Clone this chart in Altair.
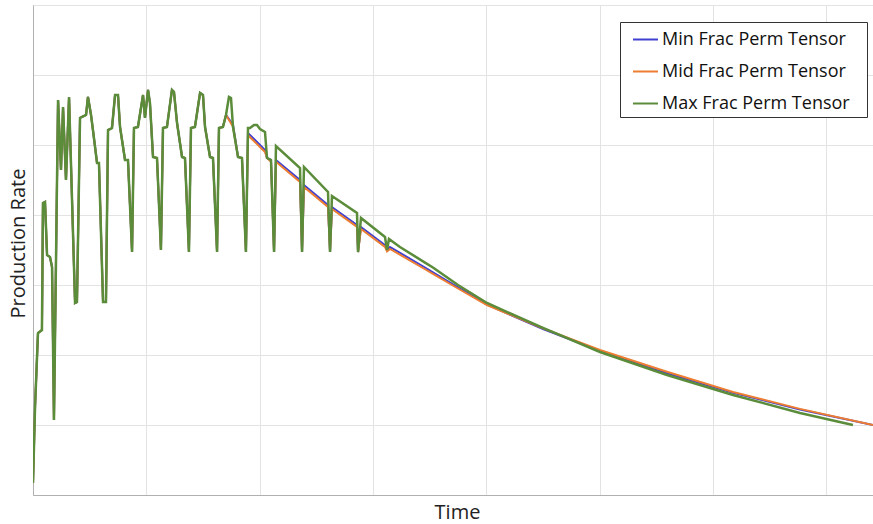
import altair as alt
import pandas as pd

series_names = ["Min Frac Perm Tensor", "Mid Frac Perm Tensor", "Max Frac Perm Tensor"]
series_colors = ["#4040d0", "#ed7d31", "#5b8c3a"]

# Shared early history (all three cases identical)
shared_t = [0.000, 0.018, 0.044, 0.079, 0.088, 0.106, 0.124, 0.150, 0.168, 0.185,
            0.221, 0.247, 0.265, 0.291, 0.318, 0.371, 0.388, 0.415, 0.468, 0.485,
            0.512, 0.529, 0.565, 0.582, 0.618, 0.644, 0.662, 0.697, 0.724, 0.750,
            0.768, 0.812, 0.838, 0.874, 0.891, 0.926, 0.971, 0.988, 1.015, 1.032,
            1.059, 1.094, 1.129, 1.147, 1.182, 1.226, 1.244, 1.271, 1.315, 1.341,
            1.376, 1.394, 1.429, 1.474, 1.500, 1.518, 1.562, 1.588, 1.624, 1.641,
            1.676, 1.703]
shared_v = [0.171, 1.257, 2.314, 2.357, 4.171, 4.186, 3.429, 3.400, 3.257, 1.071,
            5.643, 4.643, 5.543, 4.500, 5.686, 2.743, 2.757, 5.386, 5.429, 5.686,
            5.429, 5.214, 4.743, 4.743, 2.757, 2.757, 5.214, 5.243, 5.714, 5.714,
            5.257, 4.786, 4.786, 3.471, 5.243, 5.257, 5.714, 5.386, 5.786, 5.600,
            4.829, 4.814, 3.500, 5.243, 5.257, 5.786, 5.757, 5.314, 4.829, 4.814,
            3.471, 5.243, 5.257, 5.743, 5.714, 5.257, 4.829, 4.814, 3.471, 5.243,
            5.257, 5.429]

# Max case after divergence
max_t = [1.729, 1.747, 1.765, 1.809, 1.844, 1.879, 1.897, 1.915, 1.950, 1.976,
         2.003, 2.047, 2.065, 2.100, 2.127, 2.144, 2.356, 2.374, 2.391, 2.603,
         2.621, 2.638, 2.859, 2.868, 2.894, 3.106, 3.124, 3.141, 3.238, 3.459,
         3.529, 3.750, 4.006, 4.500, 5.003, 5.594, 6.177, 6.768, 7.235]
max_v = [5.686, 5.671, 5.257, 4.829, 4.814, 3.471, 5.243, 5.243, 5.286, 5.286,
         5.229, 5.186, 4.814, 4.786, 3.471, 4.986, 4.671, 3.471, 4.686, 4.329,
         3.471, 4.271, 4.029, 3.471, 3.957, 3.686, 3.500, 3.657, 3.543, 3.320,
         3.250, 3.000, 2.743, 2.386, 2.043, 1.714, 1.429, 1.171, 1.000]

# Min case after divergence
min_t = [1.765, 1.809, 1.844, 1.879, 1.897, 2.047, 2.065, 2.100, 2.127, 2.144,
         2.356, 2.374, 2.391, 2.603, 2.621, 2.638, 2.859, 2.868, 2.894, 3.106,
         3.124, 3.150, 3.459, 3.529, 3.750, 4.006, 4.500, 5.003, 5.594, 6.177,
         6.768, 7.412]
min_v = [5.286, 4.829, 4.814, 3.471, 5.171, 4.929, 4.814, 4.786, 3.471, 4.786,
         4.500, 3.471, 4.429, 4.143, 3.471, 4.114, 3.857, 3.471, 3.829, 3.571,
         3.500, 3.543, 3.250, 3.180, 2.965, 2.720, 2.370, 2.060, 1.740, 1.460,
         1.220, 1.000]

# Mid case after divergence
mid_t = [1.765, 1.809, 1.844, 1.879, 1.897, 2.047, 2.065, 2.100, 2.127, 2.144,
         2.356, 2.374, 2.391, 2.603, 2.621, 2.638, 2.859, 2.868, 2.894, 3.106,
         3.124, 3.150, 3.459, 3.529, 3.750, 4.006, 4.500, 5.003, 5.594, 6.177,
         6.768, 7.412]
mid_v = [5.260, 4.829, 4.814, 3.471, 5.140, 4.900, 4.814, 4.760, 3.471, 4.760,
         4.470, 3.471, 4.400, 4.115, 3.471, 4.085, 3.830, 3.471, 3.800, 3.545,
         3.480, 3.515, 3.225, 3.160, 2.950, 2.714, 2.380, 2.071, 1.760, 1.471,
         1.230, 1.000]


def build(tail_t, tail_v, name):
    return pd.DataFrame({
        "Time": shared_t + tail_t,
        "Rate": shared_v + tail_v,
        "Series": name,
    })


df_min = build(min_t, min_v, series_names[0])
df_mid = build(mid_t, mid_v, series_names[1])
df_max = build(max_t, max_v, series_names[2])

color = alt.Color(
    "Series:N",
    scale=alt.Scale(domain=series_names, range=series_colors),
    legend=alt.Legend(
        title=None,
        orient="none",
        legendX=587,
        legendY=17,
        symbolType="stroke",
        symbolSize=625,
        symbolStrokeWidth=2,
        symbolOffset=8,
        labelFont="Open Sans",
        labelFontSize=18,
        labelColor="#111111",
        labelOffset=3,
        labelLimit=0,
        labelExpr="datum.label + '\u2800'",
        rowPadding=9,
        padding=4,
        strokeColor="#333333",
        fillColor="white",
        cornerRadius=0,
    ),
)

x_enc = alt.X(
    "Time:Q",
    scale=alt.Scale(domain=[0, 7.412], nice=False, zero=False),
    axis=alt.Axis(
        values=[0, 1, 2, 3, 4, 5, 6, 7],
        labels=False,
        ticks=False,
        domainColor="#b0b0b0",
        gridColor="#e3e3e3",
        title="Time",
        titleFont="Open Sans",
        titleFontSize=20,
        titleFontWeight="normal",
        titleColor="#222222",
        titleBaseline="alphabetic",
        titleX=424,
        titleY=23,
        titleAlign="center",
    ),
)
y_enc = alt.Y(
    "Rate:Q",
    scale=alt.Scale(domain=[0, 7], nice=False),
    axis=alt.Axis(
        values=[0, 1, 2, 3, 4, 5, 6, 7],
        labels=False,
        ticks=False,
        domainColor="#b0b0b0",
        gridColor="#e3e3e3",
        title="Production Rate",
        titleFont="Open Sans",
        titleFontSize=20,
        titleFontWeight="normal",
        titleColor="#222222",
        titleBaseline="alphabetic",
        titleAngle=270,
        titleX=-9,
        titleY=238,
        titleAlign="center",
    ),
)


def layer(df, width):
    return alt.Chart(df).mark_line(strokeWidth=width, clip=True).encode(
        x=x_enc, y=y_enc, color=color, order="Time:Q"
    )


chart = alt.layer(
    layer(df_min, 2),
    layer(df_mid, 2),
    layer(df_max, 2.5),
).properties(
    width=840,
    height=490,
    autosize=alt.AutoSizeParams(type="none"),
    padding={"left": 33, "top": 5, "right": 0, "bottom": 29},
).configure_view(
    stroke="#c8c8c8",
    strokeWidth=1,
).configure(background="white")

chart.save("out.html", embed_options={"renderer": "svg", "actions": False})
